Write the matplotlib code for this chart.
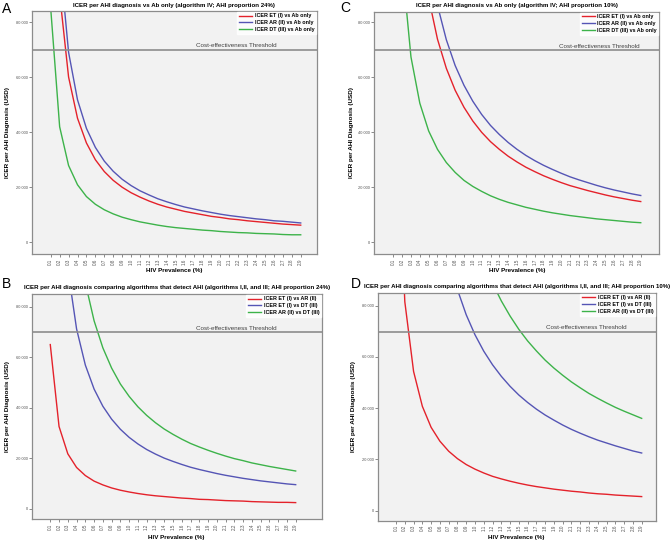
import matplotlib
matplotlib.use("Agg")
import matplotlib.pyplot as plt

plt.rcParams["font.family"] = ["Liberation Sans", "DejaVu Sans"]

# HIV prevalence categories (x axis)
prevalence = ["0.1", "0.2", "0.3", "0.4", "0.5", "0.6", "0.7", "0.8", "0.9", "1.0",
              "1.1", "1.2", "1.3", "1.4", "1.5", "1.6", "1.7", "1.8", "1.9", "2.0",
              "2.1", "2.2", "2.3", "2.4", "2.5", "2.6", "2.7", "2.8", "2.9"]

threshold = 69800

# Panel A: vs Ab only, AHI proportion 24%
a_et = [180500, 90200, 60100, 45100, 36100, 30000, 25700, 22500, 20000, 18000,
        16400, 15000, 13800, 12800, 12000, 11200, 10600, 10000, 9400, 9000,
        8500, 8200, 7800, 7500, 7200, 6900, 6600, 6400, 6200]
a_ar = [207500, 103700, 69100, 51800, 41400, 34500, 29500, 25800, 22900, 20600,
        18700, 17200, 15800, 14700, 13700, 12800, 12100, 11400, 10800, 10200,
        9700, 9300, 8900, 8500, 8200, 7800, 7600, 7300, 7000]
a_dt = [85000, 42000, 27900, 20900, 16600, 13800, 11800, 10300, 9100, 8200,
        7400, 6800, 6200, 5700, 5300, 5000, 4700, 4400, 4200, 3900,
        3700, 3500, 3400, 3200, 3100, 3000, 2800, 2700, 2700]

# Panel C: vs Ab only, AHI proportion 10%
c_et = [447000, 223100, 148500, 111200, 88900, 73900, 63300, 55300, 49100, 44100,
        40000, 36600, 33800, 31300, 29200, 27300, 25700, 24200, 22900, 21700,
        20600, 19700, 18800, 18000, 17200, 16500, 15900, 15300, 14800]
c_ar = [522400, 260600, 173400, 129800, 103600, 86200, 73700, 64300, 57100, 51300,
        46500, 42500, 39200, 36300, 33800, 31600, 29700, 28000, 26500, 25100,
        23800, 22700, 21700, 20700, 19800, 19000, 18300, 17600, 17000]
c_dt = [202100, 101100, 67400, 50600, 40500, 33800, 29000, 25400, 22500, 20300,
        18500, 16900, 15600, 14500, 13600, 12700, 12000, 11300, 10700, 10200,
        9700, 9300, 8900, 8500, 8200, 7900, 7600, 7300, 7100]

# Panel B: between AHI algorithms, AHI proportion 24%
b_et_ar = [65000, 32600, 21800, 16400, 13200, 11000, 9500, 8300, 7400, 6700,
           6100, 5600, 5200, 4900, 4600, 4300, 4100, 3800, 3700, 3500,
           3300, 3200, 3100, 2900, 2800, 2700, 2600, 2600, 2500]
b_et_dt = [285700, 142700, 95000, 71200, 56900, 47400, 40600, 35500, 31500, 28300,
           25700, 23500, 21700, 20100, 18800, 17600, 16500, 15600, 14800, 14000,
           13300, 12700, 12100, 11600, 11100, 10700, 10300, 9900, 9600]
b_ar_dt = [448800, 224200, 149300, 111800, 89400, 74400, 63700, 55700, 49400, 44500,
           40400, 37000, 34100, 31600, 29500, 27600, 25900, 24500, 23200, 22000,
           20900, 19900, 19100, 18200, 17500, 16800, 16200, 15600, 15000]

# Panel D: between AHI algorithms, AHI proportion 10%
d_et_ar = [163200, 81500, 54300, 40700, 32500, 27100, 23200, 20300, 18000, 16200,
           14700, 13400, 12400, 11500, 10700, 10000, 9400, 8900, 8400, 8000,
           7600, 7300, 6900, 6600, 6400, 6100, 5900, 5700, 5500]
d_et_dt = [702200, 350200, 232900, 174200, 139000, 115500, 98800, 86200, 76400, 68600,
           62200, 56900, 52400, 48500, 45100, 42200, 39600, 37300, 35300, 33400,
           31700, 30200, 28800, 27500, 26400, 25300, 24300, 23300, 22500]
d_ar_dt = [1076900, 537900, 358200, 268400, 214500, 178500, 152900, 133600, 118600, 106700,
           96900, 88700, 81800, 75900, 70700, 66200, 62300, 58700, 55600, 52800,
           50200, 47900, 45700, 43800, 42000, 40300, 38800, 37400, 36000]

y_ticks = [0, 20000, 40000, 60000, 80000]
y_tick_labels = ["0", "20 000", "40 000", "60 000", "80 000"]

RED = "#e4222b"
BLUE = "#5555b5"
GREEN = "#3db34a"

W, H = 670, 543
fig = plt.figure(figsize=(W / 100, H / 100), dpi=100)
fig.patch.set_facecolor("white")


def add_panel(box, letter, letter_pos, title, series, labels, xlim, ylim,
              thr_x, xlabel_y, ylabel_x):
    l, t, r, b = box
    ax = fig.add_axes([l / W, 1 - b / H, (r - l) / W, (b - t) / H])
    ax.set_facecolor("#f2f2f2")
    x = range(len(prevalence))
    for vals, lab, col in zip(series, labels, [RED, BLUE, GREEN]):
        ax.plot(x, vals, color=col, lw=1.0, label=lab)
    ax.axhline(threshold, color="#8c8c8c", lw=1.2)
    ax.text(thr_x, threshold + 700, "Cost-effectiveness Threshold",
            transform=ax.get_yaxis_transform(), ha="center", va="bottom",
            fontsize=4.5, color="#404040")
    ax.set_xlim(*xlim)
    ax.set_ylim(*ylim)
    ax.set_xticks(list(x))
    ax.set_xticklabels(prevalence, rotation=90, fontsize=3.3, color="#555555")
    ax.set_yticks(y_ticks)
    ax.set_yticklabels(y_tick_labels, fontsize=2.9, color="#555555")
    ax.tick_params(length=2, width=0.6, color="#777777", pad=1)
    for s in ax.spines.values():
        s.set_color("#8c8c8c")
        s.set_linewidth(0.9)
    leg = ax.legend(loc="upper right", fontsize=3.9, frameon=True, fancybox=False,
                    borderaxespad=0.15, handlelength=2.4, handletextpad=0.5,
                    labelspacing=0.35, borderpad=0.3)
    leg.get_frame().set_facecolor("white")
    leg.get_frame().set_edgecolor("white")
    for txt in leg.get_texts():
        txt.set_fontweight("bold")
    fig.text((l + r) / 2 / W, 1 - (t - 6) / H, title, ha="center", va="center",
             fontsize=4.4, fontweight="bold")
    fig.text((l + r) / 2 / W, 1 - xlabel_y / H, "HIV Prevalence (%)", ha="center",
             va="center", fontsize=4.5, fontweight="bold")
    fig.text(ylabel_x / W, 1 - (t + b) / 2 / H, "ICER per AHI Diagnosis (USD)",
             rotation=90, ha="center", va="center", fontsize=4.6, fontweight="bold")
    fig.text(letter_pos[0] / W, 1 - letter_pos[1] / H, letter, ha="left",
             va="center", fontsize=10)
    return ax


ab_labels = ["ICER ET (I) vs Ab only", "ICER AR (II) vs Ab only", "ICER DT (III) vs Ab only"]
alg_labels = ["ICER ET (I) vs AR (II)", "ICER ET (I) vs DT (III)", "ICER AR (II) vs DT (III)"]

add_panel((31.7, 11, 316.7, 254.3), "A", (2, 9),
          "ICER per AHI diagnosis vs Ab only (algorithm IV; AHI proportion 24%)",
          [a_et, a_ar, a_dt], ab_labels, (-2.13, 29.79), (-4400, 84100),
          0.717, 270, 8)

add_panel((374.3, 11.7, 659.3, 254.3), "C", (340, 8),
          "ICER per AHI diagnosis vs Ab only (algorithm IV; AHI proportion 10%)",
          [c_et, c_ar, c_dt], ab_labels, (-2.15, 30.1), (-4400, 83900),
          0.788, 270, 351)

add_panel((31.7, 294, 321.7, 519.3), "B", (2, 284),
          "ICER per AHI diagnosis comparing algorithms that detect AHI (algorithms I,II, and III; AHI proportion 24%)",
          [b_et_ar, b_et_dt, b_ar_dt], alg_labels, (-2.12, 30.97), (-4100, 85000),
          0.707, 538, 8)

add_panel((377.7, 292.7, 655.7, 520.7), "D", (351, 284),
          "ICER per AHI diagnosis comparing algorithms that detect AHI (algorithms I,II, and III; AHI proportion 10%)",
          [d_et_ar, d_et_dt, d_ar_dt], alg_labels, (-2.09, 29.6), (-3900, 85000),
          0.75, 538, 354)

fig.savefig("out.png", dpi=100)
